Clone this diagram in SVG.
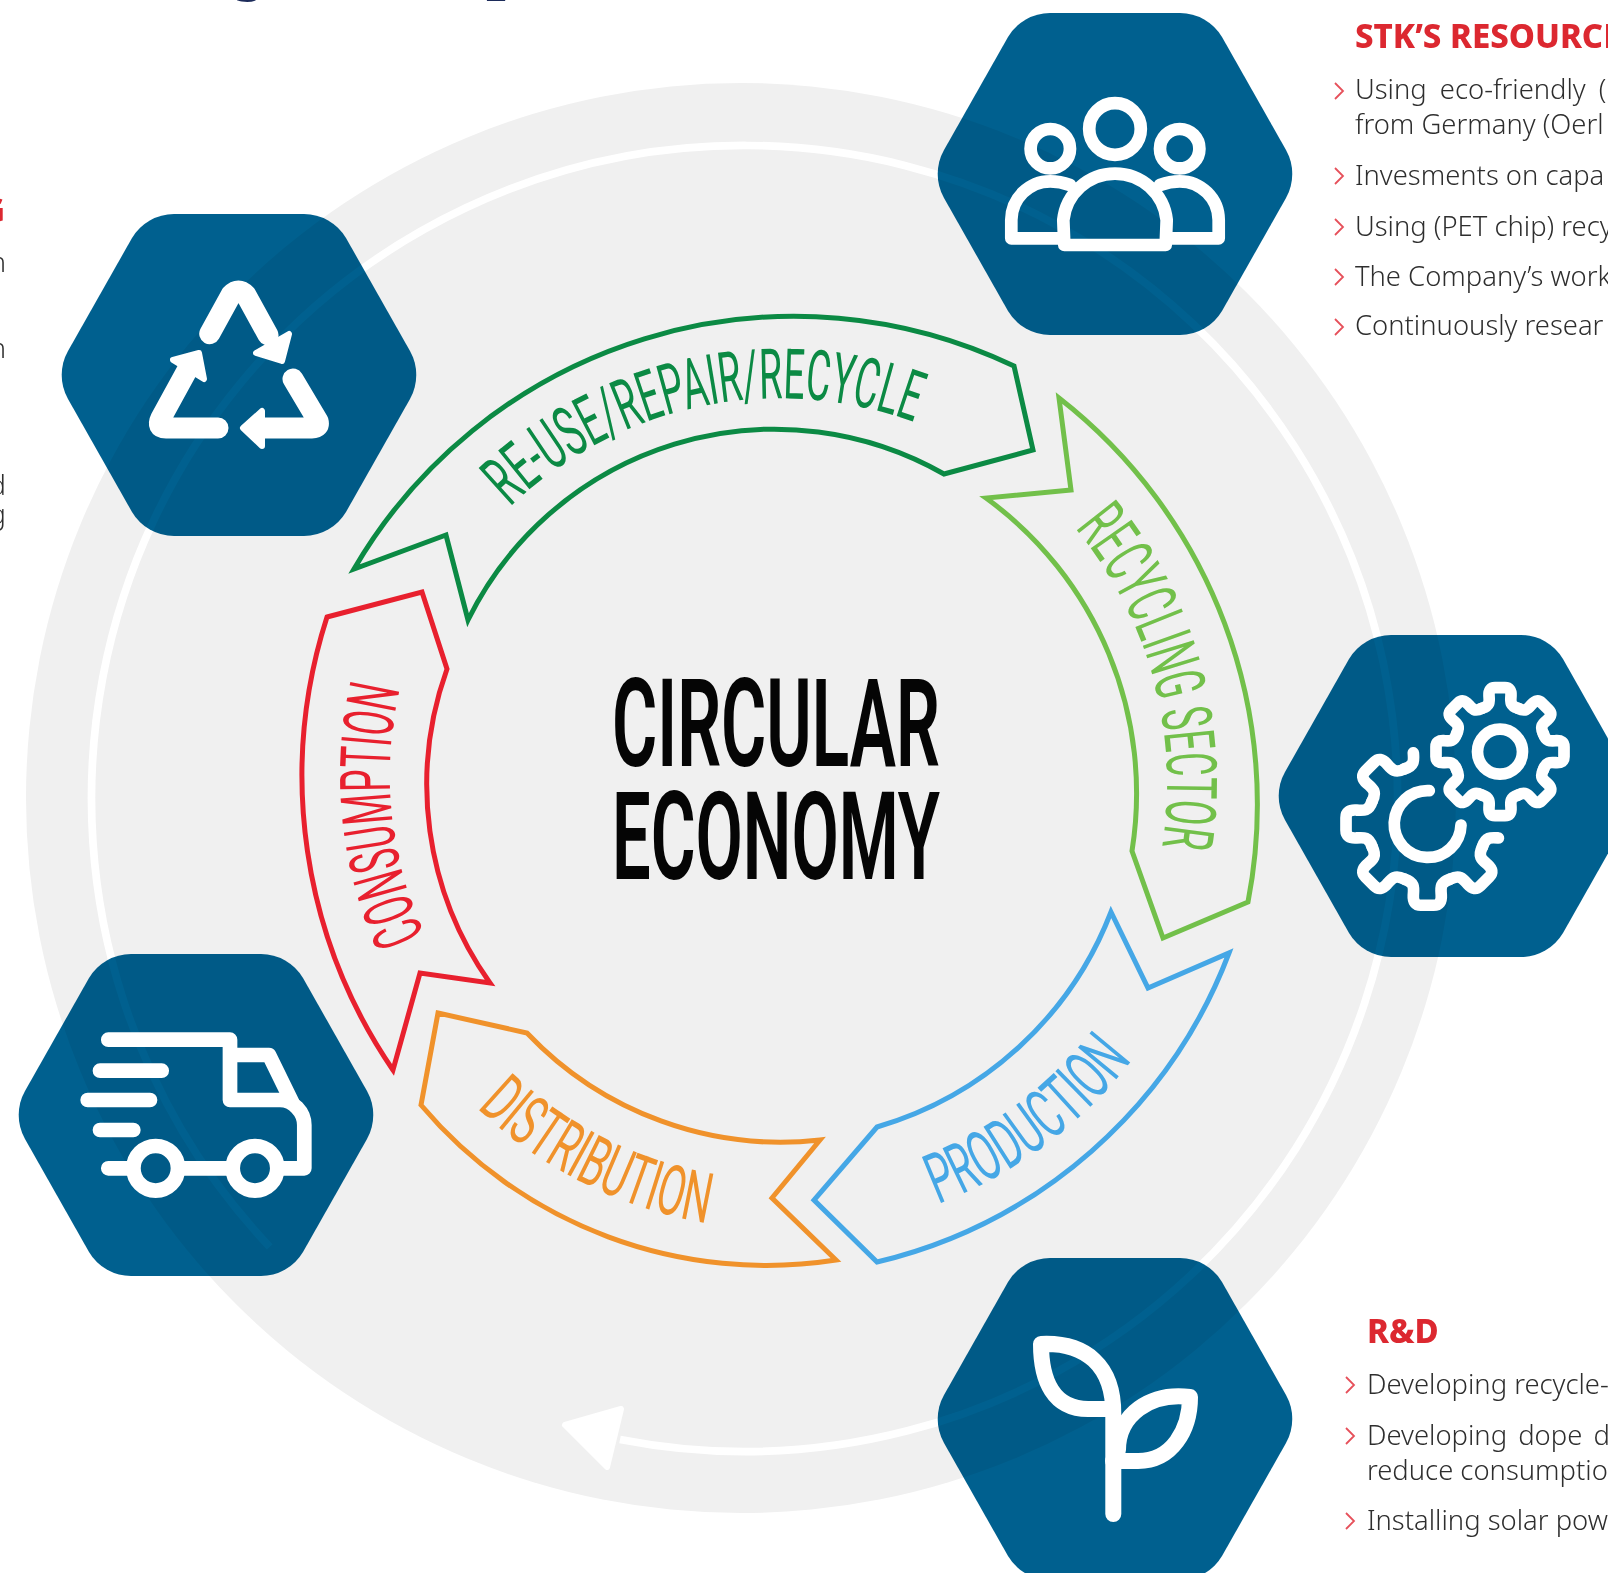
<svg xmlns="http://www.w3.org/2000/svg" width="1608" height="1573" viewBox="0 0 1608 1573">
<style>
.hex{fill:#00608f;mix-blend-mode:multiply}
.ic{fill:none;stroke:#fff;stroke-linecap:round;stroke-linejoin:round}
.arr{fill:#fff;stroke:#fff;stroke-width:6;stroke-linejoin:round}
.rib{fill:none;stroke-width:5;stroke-linejoin:miter}
.rt{font-family:"Roboto","Liberation Sans",sans-serif;font-weight:400;font-size:70px}
.ct{font-family:"Roboto","Liberation Sans",sans-serif;font-weight:600;font-size:122px;fill:#050505}
.h{font-family:"Noto Sans","Open Sans",sans-serif;font-weight:800;font-size:33px;fill:#dc2830}
.b{font-family:"Noto Sans","Open Sans",sans-serif;font-weight:300;font-size:27.4px;fill:#2e2e2e}
.ch{fill:none;stroke:#e6505a;stroke-width:1.8}
</style>
<defs>
<path id="hexa" d="M-65 -161H65A49 49 0 0 1 107 -137L171 -24A49 49 0 0 1 171 24L107 137A49 49 0 0 1 65 161H-65A49 49 0 0 1 -107 137L-171 24A49 49 0 0 1 -171 -24L-107 -137A49 49 0 0 1 -65 -161Z"/>
<path id="tooth" d="M-18 -43.4C-10 -46 -10.5 -50 -11 -56Q-11.5 -64 -5 -64H5Q11.5 -64 11 -56C10.5 -50 10 -46 18 -43.4"/>
<path id="tp1" d="M510 507A390 390 0 0 1 914 422"/>
<path id="tp2" d="M1075 528A398 398 0 0 1 1162 846"/>
<path id="tp3" d="M938 1204A449 449 0 0 0 1132 1060"/>
<path id="tp4" d="M477 1108A435 435 0 0 0 707 1223"/>
<path id="tp5" d="M425 935A380 380 0 0 1 400 688"/>
<path id="chev" d="M0 -8L8 0L0 8"/>
</defs>
<rect width="1608" height="1573" fill="#fff"/>
<circle id="disc" cx="741" cy="798" r="715" fill="#f0f0f0"/>
<g id="connectors">
<path d="M269.7 1246.8A653 653 0 1 1 620 1439.5" fill="none" stroke="#fff" stroke-width="7.7"/>
<path class="arr" stroke-width="3" d="M565 1425L621 1409L607 1467Z"/>
</g>
<g id="ribbon-reuse">
<path class="rib" stroke="#0b8a44" d="M354 569A510 510 0 0 1 1014 366L1033 450L944 474A342 342 0 0 0 468 620L446 535Z"/>
<text class="rt" fill="#0b8a44"><textPath href="#tp1" textLength="435" lengthAdjust="spacingAndGlyphs">RE-USE/REPAIR/RECYCLE</textPath></text>
</g>
<g id="ribbon-recycling">
<path class="rib" stroke="#72c04a" d="M1059 398A515 515 0 0 1 1248 902L1163 938L1132 851A365 365 0 0 0 986 498L1071 490Z"/>
<text class="rt" fill="#72c04a"><textPath href="#tp2" textLength="340" lengthAdjust="spacingAndGlyphs">RECYCLING SECTOR</textPath></text>
</g>
<g id="ribbon-production">
<path class="rib" stroke="#45a7e6" d="M1111 912L1148 988L1229 953A500 500 0 0 1 877 1262L814 1200L877 1127A358 358 0 0 0 1111 912Z"/>
<text class="rt" fill="#45a7e6"><textPath href="#tp3" textLength="245" lengthAdjust="spacingAndGlyphs">PRODUCTION</textPath></text>
</g>
<g id="ribbon-distribution">
<path class="rib" stroke="#f0922b" d="M438 1013L527 1033A350 350 0 0 0 820 1140L772 1198L836 1260A452 452 0 0 1 421 1105Z"/>
<text class="rt" fill="#f0922b"><textPath href="#tp4" textLength="261" lengthAdjust="spacingAndGlyphs">DISTRIBUTION</textPath></text>
</g>
<g id="ribbon-consumption">
<path class="rib" stroke="#e8202e" d="M327 617L422 592L447 669A342 342 0 0 0 490 983L420 973L393 1070A520 520 0 0 1 327 617Z"/>
<text class="rt" fill="#e8202e"><textPath href="#tp5" textLength="252" lengthAdjust="spacingAndGlyphs">CONSUMPTION</textPath></text>
</g>
<g id="center-title">
<text class="ct" x="612" y="766" textLength="328" lengthAdjust="spacingAndGlyphs">CIRCULAR</text>
<text class="ct" x="612" y="879" textLength="328" lengthAdjust="spacingAndGlyphs">ECONOMY</text>
</g>
<g id="node-people">
<use href="#hexa" class="hex" x="1115" y="174"/>
<g class="ic" stroke-width="12.7">
<circle cx="1115" cy="129" r="25.8"/><circle cx="1050.3" cy="148.7" r="19.7"/><circle cx="1179.7" cy="148.7" r="19.7"/>
<path d="M1064.3 245L1063.3 220A52 52 0 0 1 1166.7 220L1165.7 245Z"/>
<path d="M1058 238.3H1011.3V220A39 39 0 0 1 1050.3 181.3Q1060 181.3 1070 185"/>
<path d="M1172 238.3H1218.7V220A39 39 0 0 0 1179.7 181.3Q1170 181.3 1160 185"/>
</g>
</g>
<g id="node-recycle">
<use href="#hexa" class="hex" x="239" y="375"/>
<g class="ic" stroke-width="21">
<path d="M209.7 333.7L231 295Q238.4 287 246 295L268 335"/>
<path d="M293 379L318 421Q320 428 312 428H264"/>
<path d="M218 428H166Q156 428 161 418L190 365"/>
</g>
<path class="arr" d="M289 334L282 361L256 353Z"/>
<path class="arr" d="M243 428L262 411V446Z"/>
<path class="arr" d="M199 353L173 360L204 379Z"/>
</g>
<g id="node-gears">
<use href="#hexa" class="hex" x="1456" y="796"/>
<g class="ic" stroke-width="11.7">
<circle cx="1500" cy="751.7" r="22.5"/>
<path d="M1429.3 790.7A33.4 33.4 0 1 0 1461 825"/>
<g transform="translate(1500 751.7)"><use href="#tooth"/><use href="#tooth" transform="rotate(45)"/><use href="#tooth" transform="rotate(90)"/><use href="#tooth" transform="rotate(135)"/><use href="#tooth" transform="rotate(180)"/><use href="#tooth" transform="rotate(225)"/><use href="#tooth" transform="rotate(270)"/><use href="#tooth" transform="rotate(315)"/></g>
<g transform="translate(1427.3 824) scale(1.27)" stroke-width="9.2">
<path d="M-18 -43.4C-10 -46 -10.5 -50 -11 -56"/>
<use href="#tooth" transform="rotate(-45)"/><use href="#tooth" transform="rotate(-90)"/><use href="#tooth" transform="rotate(-135)"/><use href="#tooth" transform="rotate(180)"/><use href="#tooth" transform="rotate(135)"/>
<path transform="rotate(90)" d="M18 -43.4C10 -46 10.5 -50 11 -56"/>
</g>
</g>
</g>
<g id="node-truck">
<use href="#hexa" class="hex" x="196" y="1115"/>
<g class="ic" stroke-width="14.7">
<path d="M108.3 1039.7H230V1100H280C293 1100 304.3 1112 304.3 1125V1168.3H281"/>
<path d="M232 1055H269L292 1102"/>
<path d="M100 1070.7H161.7M87.7 1100H150M100 1130H133.3M108.3 1168.3H131M180 1168.3H231"/>
<circle cx="155.7" cy="1168.3" r="22.3"/><circle cx="255" cy="1168.3" r="22.3"/>
</g>
</g>
<g id="node-plant">
<use href="#hexa" class="hex" x="1115" y="1419"/>
<g class="ic" stroke-width="16">
<path d="M1113.3 1514V1415C1114 1365 1085 1342 1041 1344C1041 1380 1053 1410 1090 1409H1113"/>
<path d="M1118 1450C1118 1415 1150 1392 1190 1397C1190 1430 1172 1461 1138 1461H1113"/>
</g>
</g>
<g id="text-resources">
<text class="h" x="1355" y="48">STK’S RESOURCE</text>
<text class="b" x="1355" y="99" word-spacing="6">Using eco-friendly (e</text>
<text class="b" x="1355" y="134">from Germany (Oerl</text>
<text class="b" x="1355" y="185">Invesments on capa</text>
<text class="b" x="1355" y="235.5">Using (PET chip) recy</text>
<text class="b" x="1355" y="285.5">The Company’s work</text>
<text class="b" x="1355" y="335">Continuously resear</text>
<use href="#chev" class="ch" x="1335" y="91"/><use href="#chev" class="ch" x="1335" y="176"/><use href="#chev" class="ch" x="1335" y="227"/><use href="#chev" class="ch" x="1335" y="277"/><use href="#chev" class="ch" x="1335" y="327"/>
</g>
<g id="text-rd">
<text class="h" x="1367" y="1343">R&amp;D</text>
<text class="b" x="1367" y="1394">Developing recycle-</text>
<text class="b" x="1367" y="1445" word-spacing="4">Developing dope d</text>
<text class="b" x="1367" y="1480">reduce consumptio</text>
<text class="b" x="1367" y="1530">Installing solar pow</text>
<use href="#chev" class="ch" x="1346" y="1385"/><use href="#chev" class="ch" x="1346" y="1436"/><use href="#chev" class="ch" x="1346" y="1521"/>
</g>
<g id="text-left" text-anchor="end">
<text class="h" x="5" y="222">G</text>
<text class="b" x="6" y="272">n</text>
<text class="b" x="6" y="358">n</text>
<text class="b" x="6" y="495">d</text>
<text class="b" x="6" y="524">g</text>
</g>
<g id="text-top" font-family="Noto Sans, sans-serif" font-weight="700" fill="#1c2b5a">
<text x="233" y="-10" font-size="50">g</text>
<text x="487" y="-6" font-size="44">_</text>
</g>
</svg>
